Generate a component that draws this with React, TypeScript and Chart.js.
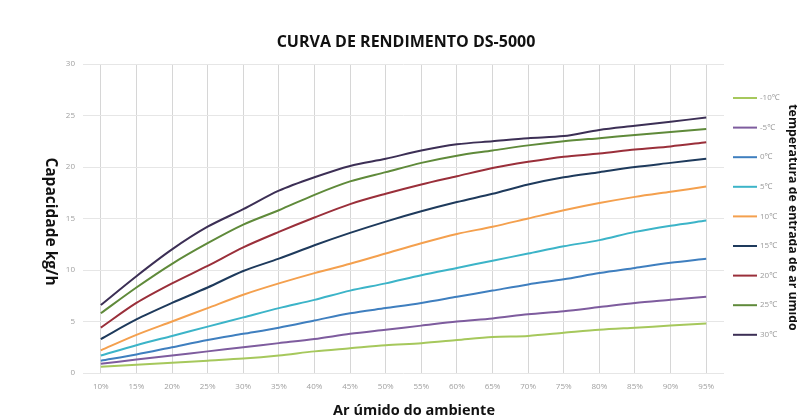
import React, { useEffect, useRef } from "react";
import { Chart, registerables } from "chart.js";

Chart.register(...registerables);

const categories = ["10%", "15%", "20%", "25%", "30%", "35%", "40%", "45%", "50%", "55%", "60%", "65%", "70%", "75%", "80%", "85%", "90%", "95%"];

const seriesLabels = ["-10℃", "-5℃", "0℃", "5℃", "10℃", "15℃", "20℃", "25℃", "30℃"];
const seriesColors = ["#a6c85c", "#7e5c9e", "#3f7fbf", "#3cb4c8", "#f4a04e", "#1e3a5c", "#9a2f3a", "#5f8a3a", "#3c2f55"];

const tMinus10 = [0.6, 0.8, 1.0, 1.2, 1.4, 1.7, 2.1, 2.4, 2.7, 2.9, 3.2, 3.5, 3.6, 3.9, 4.2, 4.4, 4.6, 4.8];
const tMinus5 = [0.9, 1.3, 1.7, 2.1, 2.5, 2.9, 3.3, 3.8, 4.2, 4.6, 5.0, 5.3, 5.7, 6.0, 6.4, 6.8, 7.1, 7.4];
const t0 = [1.2, 1.8, 2.5, 3.2, 3.8, 4.4, 5.1, 5.8, 6.3, 6.8, 7.4, 8.0, 8.6, 9.1, 9.7, 10.2, 10.7, 11.1];
const t5 = [1.7, 2.7, 3.6, 4.5, 5.4, 6.3, 7.1, 8.0, 8.7, 9.5, 10.2, 10.9, 11.6, 12.3, 12.9, 13.7, 14.3, 14.8];
const t10 = [2.2, 3.7, 5.0, 6.3, 7.6, 8.7, 9.7, 10.6, 11.6, 12.6, 13.5, 14.2, 15.0, 15.8, 16.5, 17.1, 17.6, 18.1];
const t15 = [3.3, 5.2, 6.8, 8.3, 9.9, 11.1, 12.4, 13.6, 14.7, 15.7, 16.6, 17.4, 18.3, 19.0, 19.5, 20.0, 20.4, 20.8];
const t20 = [4.4, 6.8, 8.7, 10.4, 12.2, 13.7, 15.1, 16.4, 17.4, 18.3, 19.1, 19.9, 20.5, 21.0, 21.3, 21.7, 22.0, 22.4];
const t25 = [5.8, 8.3, 10.6, 12.6, 14.4, 15.8, 17.3, 18.6, 19.5, 20.4, 21.1, 21.6, 22.1, 22.5, 22.8, 23.1, 23.4, 23.7];
const t30 = [6.6, 9.4, 12.0, 14.2, 15.9, 17.7, 19.0, 20.1, 20.8, 21.6, 22.2, 22.5, 22.8, 23.0, 23.6, 24.0, 24.4, 24.8];

const seriesValues = [tMinus10, tMinus5, t0, t5, t10, t15, t20, t25, t30];

const chartTitle = "CURVA DE RENDIMENTO DS-5000";
const yAxisTitle = "Capacidade kg/h";
const xAxisTitle = "Ar úmido do ambiente";
const legendTitle = "temperatura de entrada de ar úmido";
const yMin = 0;
const yMax = 30;
const yStep = 5;

const FONT = "'Open Sans', 'Noto Sans', sans-serif";

const sidePlugin = {
  id: "sideDecor",
  afterDraw(chart: any) {
    const { ctx, chartArea } = chart;
    const midY = (chartArea.top + chartArea.bottom) / 2;
    ctx.save();
    ctx.fillStyle = "#111";
    ctx.textAlign = "center";
    ctx.textBaseline = "middle";

    // chart title
    ctx.font = `bold 16px ${FONT}`;
    ctx.fillText(chartTitle, 406, 42);

    // x axis title
    ctx.font = `bold 14.5px ${FONT}`;
    ctx.fillText(xAxisTitle, 414, 411);

    // left rotated axis title (reads top to bottom)
    ctx.font = `bold 15.5px ${FONT}`;
    ctx.save();
    ctx.translate(50, midY + 3);
    ctx.rotate(Math.PI / 2);
    ctx.fillText(yAxisTitle, 0, 0);
    ctx.restore();

    // right rotated legend title
    ctx.font = `bold 12.3px ${FONT}`;
    ctx.save();
    ctx.translate(793, midY - 1);
    ctx.rotate(Math.PI / 2);
    ctx.fillText(legendTitle, 0, 0);
    ctx.restore();

    // legend
    const x0 = chartArea.right + 9;
    const step = 29.6;
    const y0 = chartArea.top + 34;
    chart.data.datasets.forEach((ds: any, i: number) => {
      const y = y0 + i * step;
      ctx.strokeStyle = ds.borderColor;
      ctx.lineWidth = 2;
      ctx.beginPath();
      ctx.moveTo(x0, y);
      ctx.lineTo(x0 + 24, y);
      ctx.stroke();
      ctx.fillStyle = "#9a9a9a";
      ctx.font = `8px ${FONT}`;
      ctx.textAlign = "left";
      ctx.textBaseline = "middle";
      ctx.fillText(ds.label, x0 + 27, y);
    });
    ctx.restore();
  },
};

export default function App() {
  const ref = useRef<HTMLCanvasElement | null>(null);

  useEffect(() => {
    if (!ref.current) return;
    const chart = new Chart(ref.current, {
      type: "line",
      data: {
        labels: categories,
        datasets: seriesLabels.map((label, i) => ({
          label,
          data: seriesValues[i],
          borderColor: seriesColors[i],
          backgroundColor: seriesColors[i],
          borderWidth: 2,
          pointRadius: 0,
          tension: 0.3,
          fill: false,
        })),
      },
      options: {
        responsive: false,
        animation: false,
        devicePixelRatio: 1,
        layout: { padding: { left: 0, right: 73, top: 64, bottom: 0 } },
        plugins: {
          legend: { display: false },
          tooltip: { enabled: false },
          title: { display: false },
        },
        scales: {
          x: {
            type: "category",
            offset: true,
            grid: { offset: false, color: "#d6d6d6", drawTicks: false },
            border: { display: false },
            ticks: { color: "#a0a0a0", font: { family: FONT, size: 8 }, padding: 9, maxRotation: 0, autoSkip: false },
            title: { display: false },
            afterFit: (scale: any) => {
              scale.height = 46;
            },
          },
          y: {
            min: yMin,
            max: yMax,
            grid: { color: "#e6e6e6", drawTicks: false },
            border: { display: false },
            ticks: { stepSize: yStep, color: "#a0a0a0", font: { family: FONT, size: 8 }, padding: 8 },
            title: { display: false },
            afterFit: (scale: any) => {
              scale.width = 83;
            },
          },
        },
      },
      plugins: [sidePlugin],
    });
    return () => chart.destroy();
  }, []);

  return (
    <div style={{ position: "fixed", left: 0, top: 0, width: 797, height: 419, background: "#fff" }}>
      <canvas ref={ref} width={797} height={419} style={{ display: "block", width: 797, height: 419 }} />
    </div>
  );
}
